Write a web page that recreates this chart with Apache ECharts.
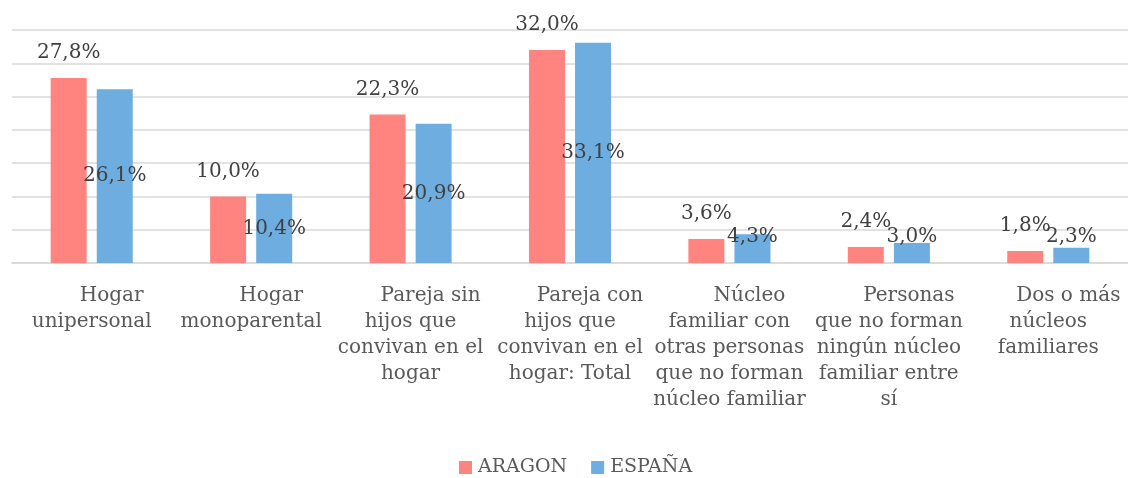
<!DOCTYPE html>
<html>
<head>
<meta charset="utf-8">
<script src="https://cdn.jsdelivr.net/npm/echarts@6/dist/echarts.min.js"></script>
<style>
  html, body { margin: 0; padding: 0; background: #fff; }
  #chart { width: 1128px; height: 478px; }
</style>
</head>
<body>
<div id="chart"></div>
<script>
const categories = [
  'Hogar\nunipersonal',
  'Hogar\nmonoparental',
  'Pareja sin\nhijos que\nconvivan en el\nhogar',
  'Pareja con\nhijos que\nconvivan en el\nhogar: Total',
  'Núcleo\nfamiliar con\notras personas\nque no forman\nnúcleo familiar',
  'Personas\nque no forman\nningún núcleo\nfamiliar entre\nsí',
  'Dos o más\nnúcleos\nfamiliares'
];
const aragon = [27.8, 10.0, 22.3, 32.0, 3.6, 2.4, 1.8];
const espana = [26.1, 10.4, 20.9, 33.1, 4.3, 3.0, 2.3];

const fontFamily = '"DejaVu Serif", serif';
const gridColor = '#d9d9d9';
const labelColor = '#404040';
const axisTextColor = '#595959';

const fmt = (v) => v.toFixed(1).replace('.', ',') + '%';

const chart = echarts.init(document.getElementById('chart'));
chart.setOption({
  animation: false,
  textStyle: { fontFamily: fontFamily },
  grid: { left: 12, right: -4, top: 30, bottom: 215, containLabel: false },
  legend: {
    top: 453,
    left: 454,
    icon: 'rect',
    itemWidth: 13,
    itemHeight: 13,
    itemGap: 24,
    textStyle: { color: axisTextColor, fontSize: 19, fontFamily: fontFamily, padding: [0, 0, 0, 1] },
    data: ['ARAGON', 'ESPAÑA']
  },
  xAxis: {
    type: 'category',
    data: categories,
    axisLine: { lineStyle: { color: gridColor, width: 1.5 } },
    axisTick: { show: false },
    axisLabel: {
      interval: 0,
      margin: 20,
      color: axisTextColor,
      fontSize: 20,
      lineHeight: 26,
      formatter: (v) => {
        const lines = v.split('\n');
        return ['{a|' + lines[0] + '}'].concat(lines.slice(1).map((l) => '{b|' + l + '}')).join('\n');
      },
      rich: {
        a: { fontSize: 20, lineHeight: 26, color: axisTextColor, fontFamily: fontFamily, padding: [0, 0, 0, 40] },
        b: { fontSize: 20, lineHeight: 26, color: axisTextColor, fontFamily: fontFamily }
      }
    }
  },
  yAxis: {
    type: 'value',
    min: 0,
    max: 35,
    interval: 5,
    axisLabel: { show: false },
    axisLine: { show: false },
    axisTick: { show: false },
    splitLine: { lineStyle: { color: gridColor, width: 1.5 } }
  },
  series: [
    {
      name: 'ARAGON',
      type: 'bar',
      data: aragon,
      barWidth: 36,
      barGap: '28%',
      itemStyle: { color: '#ff8480' },
      label: {
        show: true,
        position: 'top',
        distance: 15,
        color: labelColor,
        fontSize: 20,
        fontFamily: fontFamily,
        formatter: (p) => fmt(p.value)
      }
    },
    {
      name: 'ESPAÑA',
      type: 'bar',
      barWidth: 36,
      data: espana.map((v) => ({
        value: v,
        label: v < 5 ? { position: 'insideBottom', distance: 16 } : { position: 'inside' }
      })),
      itemStyle: { color: '#6daddf' },
      label: {
        show: true,
        color: labelColor,
        fontSize: 20,
        fontFamily: fontFamily,
        formatter: (p) => fmt(p.value)
      }
    }
  ]
});
</script>
</body>
</html>
